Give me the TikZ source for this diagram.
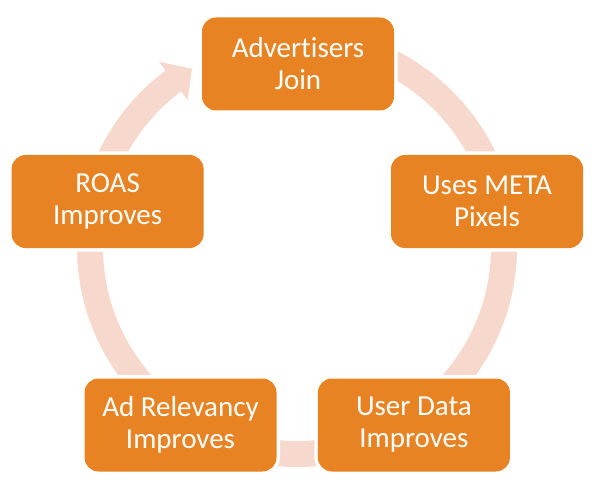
\documentclass[tikz,border=0pt]{standalone}
\usepackage{fontspec}
\setmainfont{Carlito}[Ligatures=NoCommon]
\usetikzlibrary{positioning}
\definecolor{cycleorange}{RGB}{231,131,35}
\definecolor{ringpink}{RGB}{246,216,204}

\begin{document}
\begin{tikzpicture}[x=1bp, y=-1bp, node distance=41bp,
  stepbox/.style={rounded corners=14bp, fill=cycleorange, text=white, align=center,
    minimum width=192bp, minimum height=93bp, inner sep=0pt,
    font=\fontsize{29bp}{32bp}\selectfont, preaction={draw=white, line width=7bp}}]
  \useasboundingbox (0,0) rectangle (606,493);

  % continuous ring with one arrow head
  \coordinate (hub) at (297,247);
  \draw[ringpink, line width=26bp] ([shift={(270:207)}]hub) arc[start angle=270, end angle=594, radius=207];
  \fill[ringpink] ([shift={(233.3:231)}]hub) -- ([shift={(239.5:207)}]hub) -- ([shift={(233.3:183)}]hub) -- cycle;

  \node[stepbox] (adv) at (298,64) {Advertisers\\Join};
  \node[stepbox] (meta) at (487,201.5) {Uses META\\Pixels};
  \node[stepbox] (adrel) at (180.5,425) {Ad Relevancy\\Improves};
  \node[stepbox, right=of adrel] (udata) {User Data\\Improves};
  \node[stepbox, left=187bp of meta] (roas) {ROAS\\Improves};
\end{tikzpicture}
\end{document}
